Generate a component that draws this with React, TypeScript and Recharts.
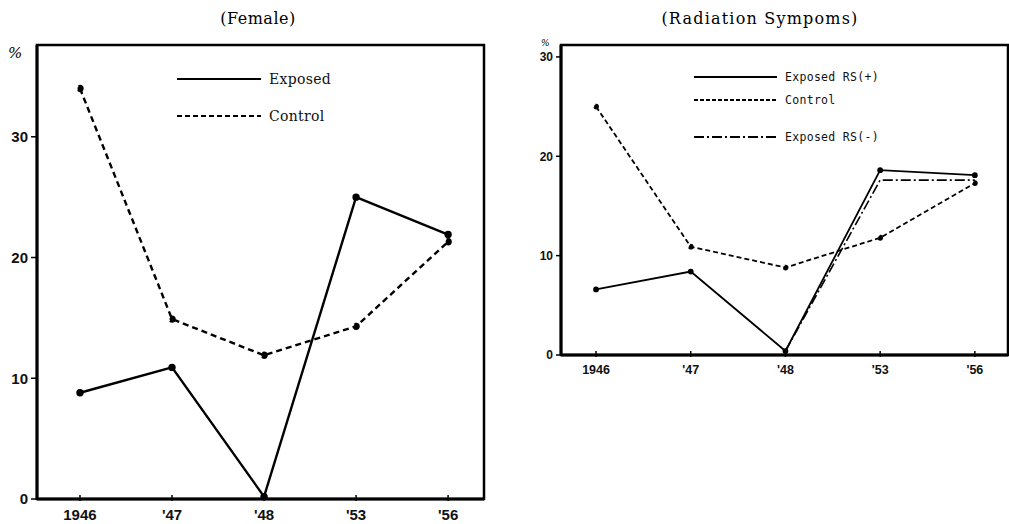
import React from 'react';
import { LineChart, Line, XAxis, YAxis, ReferenceArea, Legend } from 'recharts';

const years = ['1946', "'47", "'48", "'53", "'56"];
const femaleExposed = [8.8, 10.9, 0.2, 25.0, 21.9];
const femaleControl = [34.0, 14.9, 11.9, 14.3, 21.3];
const rsPlus = [6.6, 8.4, 0.4, 18.6, 18.1];
const rsControl = [25.0, 10.9, 8.8, 11.8, 17.3];
const rsMinus: (number | null)[] = [null, null, 0.4, 17.6, 17.6];
const femaleTicks = [0, 10, 20, 30];
const rsTicks = [0, 10, 20, 30];

const femaleData = years.map((y, i) => ({ i, exposed: femaleExposed[i], control: femaleControl[i] }));
const rsData = years.map((y, i) => ({ i, plus: rsPlus[i], control: rsControl[i], minus: rsMinus[i] }));

const narrow = '"Liberation Sans Narrow", "Liberation Sans", Arial, sans-serif';
const serif = '"DejaVu Serif", "Liberation Serif", serif';

function XTick({ x, y, payload, fontSize }: any) {
  return (
    <g>
      <line x1={x} x2={x} y1={y} y2={y - 6} stroke="#000" strokeWidth={1.5} />
      <text x={x} y={y + fontSize + 4} textAnchor="middle" fontFamily={narrow} fontWeight="bold" fontSize={fontSize} fill="#111">
        {years[payload.value]}
      </text>
    </g>
  );
}

type LegendRow = { label: string; dash?: string; y: number };

function makeLegend(rows: LegendRow[], x1: number, x2: number, fontSize: number, font: string, spacing: number, width: number) {
  return () => (
    <svg width={width} height={160} style={{ position: 'absolute', left: 0, top: 0, pointerEvents: 'none' }}>
      {rows.map((r) => (
        <g key={r.label}>
          <line x1={x1} x2={x2} y1={r.y} y2={r.y} stroke="#000" strokeWidth={2} strokeDasharray={r.dash} />
          <text x={x2 + 8} y={r.y + fontSize * 0.35} fontSize={fontSize} fontFamily={font} letterSpacing={spacing} fill="#111">
            {r.label}
          </text>
        </g>
      ))}
    </svg>
  );
}

const femaleLegend = makeLegend(
  [
    { label: 'Exposed', y: 79 },
    { label: 'Control', dash: '5 3', y: 116 },
  ],
  177, 261, 14, serif, 0.3, 500
);

const rsLegend = makeLegend(
  [
    { label: 'Exposed RS(+)', y: 77 },
    { label: 'Control', dash: '4 2', y: 100 },
    { label: 'Exposed RS(-)', dash: '10 3 2 3', y: 137 },
  ],
  194, 277, 11.5, '"DejaVu Sans Mono", monospace', 0.3, 509
);

export default function App() {
  return (
    <div style={{ position: 'absolute', left: 0, top: 0, width: 1009, height: 524, background: '#fff' }}>
      <div style={{ position: 'absolute', left: 0, top: 9, width: 516, textAlign: 'center', fontFamily: serif, fontSize: 16, letterSpacing: 0.5 }}>
        (Female)
      </div>
      <div style={{ position: 'absolute', left: 500, top: 9, width: 520, textAlign: 'center', fontFamily: serif, fontSize: 16, letterSpacing: 1.2 }}>
        (Radiation Sympoms)
      </div>
      <div style={{ position: 'absolute', left: 8, top: 44, fontFamily: serif, fontSize: 15, fontStyle: 'italic' }}>%</div>
      <div style={{ position: 'absolute', left: 541, top: 38, fontFamily: serif, fontSize: 9, fontStyle: 'italic' }}>%</div>

      <div style={{ position: 'absolute', left: 0, top: 0 }}>
        <LineChart width={500} height={524} data={femaleData} margin={{ top: 45, right: 16, bottom: 0, left: 7 }}>
          <XAxis
            dataKey="i"
            type="number"
            domain={[-0.467, 4.39]}
            ticks={[0, 1, 2, 3, 4]}
            height={25}
            tickSize={0}
            tickLine={false}
            axisLine={{ stroke: '#000', strokeWidth: 3 }}
            tick={<XTick fontSize={15} />}
            allowDataOverflow
          />
          <YAxis
            type="number"
            domain={[0, 37.6]}
            ticks={femaleTicks}
            width={30}
            tickSize={6}
            tickMargin={3}
            axisLine={{ stroke: '#000', strokeWidth: 3 }}
            tickLine={{ stroke: '#000', strokeWidth: 1.5 }}
            tick={{ fill: '#111', fontSize: 15, fontFamily: narrow, fontWeight: 'bold' }}
            allowDataOverflow
          />
          <ReferenceArea x1={-0.467} x2={4.39} y1={0} y2={37.6} fill="none" stroke="#000" strokeWidth={2.5} ifOverflow="visible" />
          <Legend content={femaleLegend} wrapperStyle={{ position: 'absolute', left: 0, top: 0, width: 500 }} />
          <Line dataKey="exposed" stroke="#000" strokeWidth={2.4} dot={{ r: 2.5, fill: '#000', stroke: '#000' }} isAnimationActive={false} />
          <Line dataKey="control" stroke="#000" strokeWidth={2.4} strokeDasharray="6 4" dot={{ r: 2.5, fill: '#000', stroke: '#000' }} isAnimationActive={false} />
        </LineChart>
      </div>

      <div style={{ position: 'absolute', left: 500, top: 0 }}>
        <LineChart width={509} height={524} data={rsData} margin={{ top: 45, right: 1, bottom: 144, left: 31 }}>
          <XAxis
            dataKey="i"
            type="number"
            domain={[-0.37, 4.35]}
            ticks={[0, 1, 2, 3, 4]}
            height={25}
            tickSize={0}
            tickLine={false}
            axisLine={{ stroke: '#000', strokeWidth: 3 }}
            tick={<XTick fontSize={12.5} />}
            allowDataOverflow
          />
          <YAxis
            type="number"
            domain={[0, 31.2]}
            ticks={rsTicks}
            width={30}
            tickSize={5}
            tickMargin={3}
            axisLine={{ stroke: '#000', strokeWidth: 3 }}
            tickLine={{ stroke: '#000', strokeWidth: 1.5 }}
            tick={{ fill: '#111', fontSize: 12, fontFamily: narrow, fontWeight: 'bold' }}
            allowDataOverflow
          />
          <ReferenceArea x1={-0.37} x2={4.35} y1={0} y2={31.2} fill="none" stroke="#000" strokeWidth={2.5} ifOverflow="visible" />
          <Legend content={rsLegend} wrapperStyle={{ position: 'absolute', left: 0, top: 0, width: 509 }} />
          <Line dataKey="plus" stroke="#000" strokeWidth={1.8} dot={{ r: 2, fill: '#000', stroke: '#000' }} isAnimationActive={false} />
          <Line dataKey="control" stroke="#000" strokeWidth={1.8} strokeDasharray="5 3" dot={{ r: 2, fill: '#000', stroke: '#000' }} isAnimationActive={false} />
          <Line dataKey="minus" stroke="#000" strokeWidth={1.6} strokeDasharray="10 3 2 3" dot={false} connectNulls={false} isAnimationActive={false} />
        </LineChart>
      </div>
    </div>
  );
}
